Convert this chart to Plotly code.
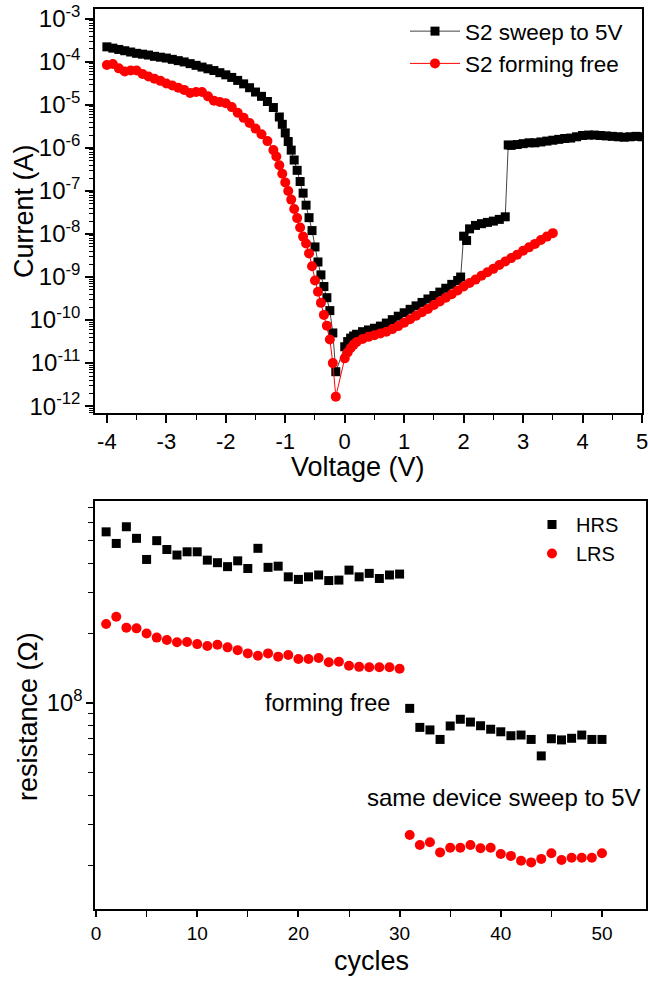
import numpy as np
import plotly.graph_objects as go

# ---------------- Top panel: I-V sweeps ----------------
sweep_voltage = [-4.0, -3.9, -3.8, -3.7, -3.6, -3.5, -3.4, -3.3, -3.2, -3.1, -3.0, -2.9, -2.8, -2.7, -2.6,
                 -2.5, -2.4, -2.3, -2.2, -2.1, -2.0, -1.9, -1.8, -1.7, -1.6, -1.5, -1.4, -1.3, -1.2, -1.1,
                 -1.05, -1.0, -0.95, -0.9, -0.85, -0.8, -0.75, -0.7, -0.65, -0.6, -0.55, -0.5, -0.45, -0.4,
                 -0.35, -0.3, -0.25, -0.2, -0.15,
                 0.0, 0.05, 0.1, 0.15, 0.2, 0.3, 0.4, 0.5, 0.6, 0.7, 0.8, 0.9, 1.0, 1.1, 1.2, 1.3, 1.4, 1.5,
                 1.6, 1.7, 1.8, 1.9, 1.95, 2.0, 2.05, 2.1, 2.2, 2.3, 2.4, 2.5, 2.6, 2.7, 2.75, 2.8, 2.9, 3.0,
                 3.1, 3.2, 3.3, 3.4, 3.5, 3.6, 3.7, 3.8, 3.9, 4.0, 4.1, 4.2, 4.3, 4.4, 4.5, 4.6, 4.7, 4.8,
                 4.9, 5.0]
sweep_log10_current = [-3.65, -3.68, -3.71, -3.74, -3.77, -3.80, -3.82, -3.84, -3.87, -3.89, -3.91, -3.94,
                       -3.97, -4.00, -4.04, -4.08, -4.12, -4.16, -4.20, -4.25, -4.30, -4.36, -4.43, -4.51,
                       -4.60, -4.70, -4.80, -4.92, -5.06, -5.28, -5.45, -5.65, -5.85, -6.05, -6.28, -6.52,
                       -6.78, -7.05, -7.33, -7.62, -7.92, -8.30, -8.65, -8.95, -9.22, -9.48, -9.78, -10.30,
                       -11.20,
                       -10.62, -10.50, -10.42, -10.37, -10.33, -10.27, -10.23, -10.19, -10.14, -10.07, -9.99,
                       -9.91, -9.83, -9.75, -9.67, -9.59, -9.51, -9.43, -9.35, -9.26, -9.17, -9.08, -9.00,
                       -8.05, -8.15, -7.88, -7.80, -7.76, -7.73, -7.70, -7.66, -7.60, -5.93, -5.94, -5.92,
                       -5.90, -5.88, -5.88, -5.86, -5.84, -5.82, -5.80, -5.78, -5.77, -5.74, -5.71, -5.70,
                       -5.70, -5.71, -5.72, -5.73, -5.74, -5.75, -5.74, -5.73, -5.74]

ff_voltage = [-4.0, -3.9, -3.8, -3.7, -3.6, -3.5, -3.4, -3.3, -3.2, -3.1, -3.0, -2.9, -2.8, -2.7, -2.6,
              -2.5, -2.4, -2.3, -2.2, -2.1, -2.0, -1.9, -1.8, -1.7, -1.6, -1.5, -1.4, -1.3, -1.2, -1.15,
              -1.1, -1.05, -1.0, -0.95, -0.9, -0.85, -0.8, -0.75, -0.7, -0.65, -0.6, -0.55, -0.5, -0.45,
              -0.4, -0.35, -0.3, -0.25, -0.2, -0.15,
              0.0, 0.05, 0.1, 0.15, 0.2, 0.3, 0.4, 0.5, 0.6, 0.7, 0.8, 0.9, 1.0, 1.1, 1.2, 1.3, 1.4, 1.5,
              1.6, 1.7, 1.8, 1.9, 2.0, 2.1, 2.2, 2.3, 2.4, 2.5, 2.6, 2.7, 2.8, 2.9, 3.0, 3.1, 3.2, 3.3,
              3.4, 3.5]
ff_log10_current = [-4.07, -4.05, -4.15, -4.22, -4.20, -4.20, -4.28, -4.34, -4.39, -4.44, -4.50, -4.55,
                    -4.60, -4.65, -4.72, -4.70, -4.70, -4.80, -4.90, -4.93, -4.96, -5.05, -5.18, -5.30,
                    -5.42, -5.55, -5.68, -5.84, -6.05, -6.20, -6.40, -6.60, -6.80, -7.00, -7.20, -7.42,
                    -7.63, -7.85, -8.06, -8.22, -8.45, -8.75, -9.08, -9.34, -9.60, -9.88, -10.13, -10.45,
                    -11.00, -11.78,
                    -10.89, -10.75, -10.65, -10.57, -10.51, -10.44, -10.39, -10.35, -10.31, -10.27, -10.21,
                    -10.14, -10.06, -9.98, -9.90, -9.82, -9.74, -9.65, -9.57, -9.48, -9.40, -9.31, -9.22,
                    -9.14, -9.06, -8.97, -8.89, -8.81, -8.72, -8.64, -8.56, -8.48, -8.39, -8.31, -8.23,
                    -8.14, -8.06, -7.98]

iv_x_ticks = [-4, -3, -2, -1, 0, 1, 2, 3, 4, 5]
iv_x_ticktext = ["-4", "-3", "-2", "-1", "0", "1", "2", "3", "4", "5"]
iv_y_ticks = [1e-12, 1e-11, 1e-10, 1e-9, 1e-8, 1e-7, 1e-6, 1e-5, 1e-4, 1e-3]
iv_y_ticktext = ["10<sup>-12</sup>", "10<sup>-11</sup>", "10<sup>-10</sup>", "10<sup>-9</sup>",
                 "10<sup>-8</sup>", "10<sup>-7</sup>", "10<sup>-6</sup>", "10<sup>-5</sup>",
                 "10<sup>-4</sup>", "10<sup>-3</sup>"]

# ---------------- Bottom panel: endurance ----------------
cycles = list(range(1, 51))
hrs_log10 = [8.738, 8.688, 8.760, 8.710, 8.619, 8.700, 8.662, 8.638, 8.652, 8.652,
             8.616, 8.605, 8.588, 8.613, 8.580, 8.667, 8.585, 8.590, 8.544, 8.533,
             8.544, 8.552, 8.528, 8.530, 8.573, 8.544, 8.559, 8.537, 8.552, 8.556,
             7.977, 7.895, 7.884, 7.843, 7.901, 7.930, 7.918, 7.902, 7.887, 7.876,
             7.859, 7.862, 7.843, 7.772, 7.846, 7.841, 7.848, 7.862, 7.843, 7.843]
lrs_log10 = [8.341, 8.372, 8.325, 8.322, 8.300, 8.282, 8.272, 8.262, 8.263, 8.254,
             8.246, 8.251, 8.240, 8.228, 8.214, 8.204, 8.214, 8.200, 8.207, 8.190,
             8.190, 8.194, 8.176, 8.178, 8.161, 8.156, 8.154, 8.154, 8.154, 8.148,
             7.431, 7.388, 7.400, 7.356, 7.376, 7.376, 7.388, 7.374, 7.376, 7.349,
             7.341, 7.320, 7.313, 7.328, 7.352, 7.323, 7.333, 7.333, 7.333, 7.352]

sweep_current = [10 ** v for v in sweep_log10_current]
ff_current = [10 ** v for v in ff_log10_current]
hrs = [10 ** v for v in hrs_log10]
lrs = [10 ** v for v in lrs_log10]

W, H = 648, 983
FONT = "Arial, Liberation Sans, sans-serif"


def px(xp):
    return xp / W


def py(yp):
    return (H - yp) / H


fig = go.Figure()

fig.add_trace(go.Scatter(
    x=sweep_voltage, y=sweep_current, mode="lines+markers", name="S2 sweep to 5V",
    line=dict(color="#444444", width=1),
    marker=dict(symbol="square", size=9, color="black"),
    xaxis="x", yaxis="y", legend="legend"))
fig.add_trace(go.Scatter(
    x=ff_voltage, y=ff_current, mode="lines+markers", name="S2 forming free",
    line=dict(color="red", width=1),
    marker=dict(symbol="circle", size=10, color="red"),
    xaxis="x", yaxis="y", legend="legend"))

fig.add_trace(go.Scatter(
    x=cycles, y=hrs, mode="markers", name="HRS",
    marker=dict(symbol="square", size=9, color="black"),
    xaxis="x2", yaxis="y2", legend="legend2"))
fig.add_trace(go.Scatter(
    x=cycles, y=lrs, mode="markers", name="LRS",
    marker=dict(symbol="circle", size=10, color="red"),
    xaxis="x2", yaxis="y2", legend="legend2"))

axis_common = dict(showgrid=False, zeroline=False, showline=True, linecolor="black", linewidth=1.5,
                   ticks="outside", tickcolor="black", tickwidth=1.5, automargin=False,
                   ticklabeloverflow="allow")

top_y_range = [-12.16, -2.77]
fig.update_layout(
    width=W, height=H, margin=dict(l=0, r=0, t=0, b=0),
    paper_bgcolor="white", plot_bgcolor="white",
    font=dict(family=FONT, color="black"),
    xaxis=dict(domain=[px(95), px(642)], anchor="y", range=[-4.2, 5.0],
               tickmode="array", tickvals=iv_x_ticks, ticktext=iv_x_ticktext,
               ticklen=8, mirror=True, tickfont=dict(size=22),
               minor=dict(tickmode="linear", ticks="outside", ticklen=5, dtick=0.5, tick0=0,
                          tickcolor="black", tickwidth=1.2),
               **axis_common),
    yaxis=dict(domain=[py(413), py(9)], anchor="x", type="log", range=top_y_range,
               tickmode="array", tickvals=iv_y_ticks, ticktext=iv_y_ticktext,
               ticklen=8, mirror=True, tickfont=dict(size=24),
               minor=dict(tickmode="linear", ticks="outside", ticklen=4, dtick="D1",
                          tickcolor="black", tickwidth=1.2),
               **axis_common),
    yaxis3=dict(overlaying="y", anchor="x", side="right", type="log", range=top_y_range,
                dtick=1, showticklabels=False, ticks="inside", ticklen=8, tickwidth=1.5, tickcolor="black",
                showgrid=False, zeroline=False, showline=False, automargin=False,
                minor=dict(ticks="inside", ticklen=4, dtick="D1", tickcolor="black", tickwidth=1.2)),
    xaxis2=dict(domain=[px(95), px(646)], anchor="y2", range=[-0.1, 54.35],
                dtick=10, tick0=0, ticklen=6, mirror=True, tickfont=dict(size=19),
                minor=dict(ticks="outside", ticklen=6, dtick=5, tick0=0, tickcolor="black", tickwidth=1.2),
                **axis_common),
    yaxis2=dict(domain=[py(909), py(501)], anchor="x2", type="log", range=[7.112, 8.871],
                dtick=1, exponentformat="power", ticklen=7, mirror=True, tickfont=dict(size=19),
                minor=dict(ticks="outside", ticklen=5, dtick="D1", tickcolor="black", tickwidth=1.2),
                **axis_common),
    legend=dict(x=px(628), xanchor="right", y=py(10), yanchor="top", bgcolor="rgba(0,0,0,0)",
                font=dict(size=22.5), itemwidth=50, tracegroupgap=0),
    legend2=dict(x=px(528), xanchor="left", y=py(505), yanchor="top", bgcolor="rgba(0,0,0,0)",
                 font=dict(size=20), itemwidth=38, tracegroupgap=0),
    showlegend=True,
)

annotations = [
    dict(text="Current (A)", x=px(24), y=py(211), textangle=-90, font=dict(size=27)),
    dict(text="Voltage (V)", x=px(358), y=py(467), font=dict(size=27)),
    dict(text="resistance (Ω)", x=px(28), y=py(717), textangle=-90, font=dict(size=27)),
    dict(text="cycles", x=px(371), y=py(961), font=dict(size=27)),
    dict(text="forming free", x=px(327), y=py(703), font=dict(size=23.5)),
    dict(text="same device sweep to 5V", x=px(503), y=py(797), font=dict(size=24)),
]
for a in annotations:
    fig.add_annotation(xref="paper", yref="paper", showarrow=False, xanchor="center", yanchor="middle",
                       font_color="black", **a)

fig.write_html("out.html", config={"displayModeBar": False},
               post_script="document.body.style.margin='0px';document.body.style.padding='0px';")
